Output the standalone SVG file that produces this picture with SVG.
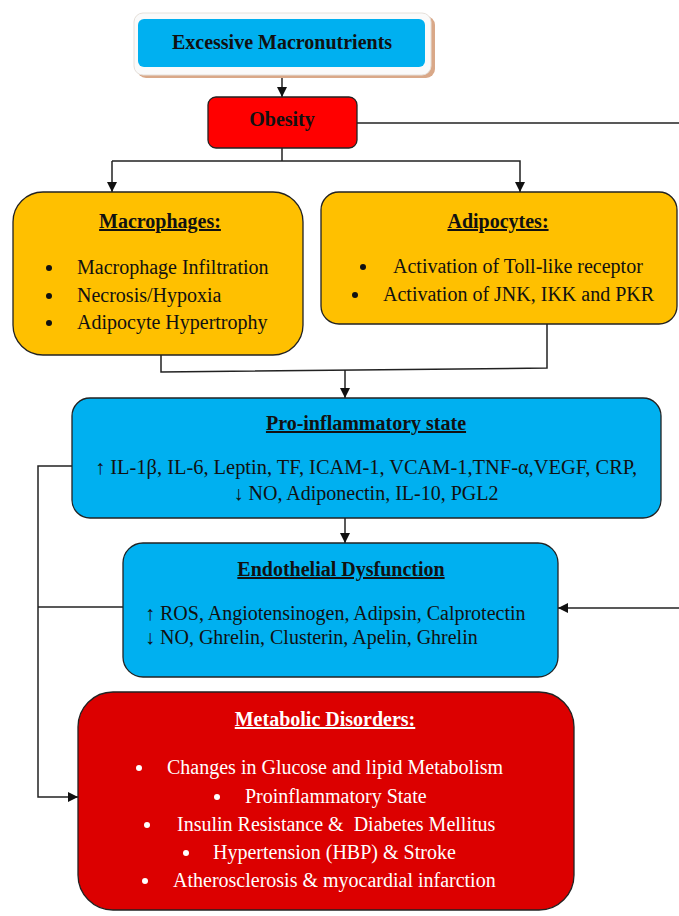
<svg xmlns="http://www.w3.org/2000/svg" width="679" height="916" viewBox="0 0 679 916" font-family="'Liberation Serif', 'Times New Roman', 'DejaVu Serif', serif">
<style>
text{font-family:'Liberation Serif','Times New Roman','DejaVu Serif',serif;font-size:20px;fill:#111}
.b{font-weight:bold}
.u{font-weight:bold;text-decoration:underline}
.c{text-anchor:middle}
.w{fill:#fff}
.box{stroke:#222;stroke-width:1.3}
.yel{fill:#FFC000}
.blu{fill:#00B0F0}
.conn{fill:none;stroke:#222;stroke-width:1.5}
.dot{fill:#111}
.wdot{fill:#fff}
</style>
<defs>
<marker id="ah" viewBox="0 0 10 10" refX="10" refY="5" markerWidth="10" markerHeight="10" markerUnits="userSpaceOnUse" orient="auto">
<path d="M0,0 L10,5 L0,10 z" fill="#111"/>
</marker>
</defs>
<rect width="679" height="916" fill="#fff"/>

<g id="connectors">
<line class="conn" x1="282" y1="76" x2="282" y2="97" marker-end="url(#ah)"/>
<line class="conn" x1="357" y1="123" x2="679" y2="123"/>
<polyline class="conn" points="282,148 282,161"/>
<polyline class="conn" points="112,161 520,161 520,192" marker-end="url(#ah)"/>
<line class="conn" x1="112" y1="161" x2="112" y2="192" marker-end="url(#ah)"/>
<polyline class="conn" points="161,355 161,372 547,368 547,324"/>
<line class="conn" x1="345" y1="370" x2="345" y2="398" marker-end="url(#ah)"/>
<line class="conn" x1="345" y1="518" x2="345" y2="543" marker-end="url(#ah)"/>
<polyline class="conn" points="72,466 38,466 38,797 78,797" marker-end="url(#ah)"/>
<line class="conn" x1="123" y1="607" x2="38" y2="607"/>
<line class="conn" x1="679" y1="608" x2="558" y2="608" marker-end="url(#ah)"/>
</g>

<g id="excessive-macronutrients">
<rect x="137" y="16" width="298" height="62" rx="9" fill="#D9A888"/>
<rect x="134" y="13" width="297" height="62" rx="9" fill="#fafafa" stroke="#e6e0da" stroke-width="1"/>
<rect x="138" y="19" width="287" height="48" rx="6" class="blu"/>
<text x="282" y="49" class="b c">Excessive Macronutrients</text>
</g>

<g id="obesity">
<rect x="208" y="97" width="149" height="51" rx="8" fill="#FF0000" class="box"/>
<text x="282" y="126" class="b c">Obesity</text>
</g>

<g id="macrophages">
<rect x="13" y="192" width="290" height="163" rx="30" class="yel box"/>
<text x="160" y="228" class="u c">Macrophages:</text>
<circle cx="49" cy="268" r="3" class="dot"/>
<circle cx="49" cy="296" r="3" class="dot"/>
<circle cx="49" cy="323" r="3" class="dot"/>
<text x="77" y="274">Macrophage Infiltration</text>
<text x="77" y="302">Necrosis/Hypoxia</text>
<text x="77" y="329">Adipocyte Hypertrophy</text>
</g>

<g id="adipocytes">
<rect x="321" y="192" width="356" height="132" rx="18" class="yel box"/>
<text x="498" y="228" class="u c">Adipocytes:</text>
<circle cx="363" cy="267" r="3" class="dot"/>
<circle cx="355" cy="295" r="3" class="dot"/>
<text x="393" y="273">Activation of Toll-like receptor</text>
<text x="383" y="301">Activation of JNK, IKK and PKR</text>
</g>

<g id="pro-inflammatory">
<rect x="72" y="398" width="589" height="120" rx="18" class="blu box"/>
<text x="366" y="430" class="u c">Pro-inflammatory state</text>
<text x="366" y="474" class="c" textLength="542" lengthAdjust="spacingAndGlyphs">↑ IL-1β, IL-6, Leptin, TF, ICAM-1, VCAM-1,TNF-α,VEGF, CRP,</text>
<text x="366" y="500" class="c">↓ NO, Adiponectin, IL-10, PGL2</text>
</g>

<g id="endothelial">
<rect x="123" y="543" width="435" height="134" rx="20" class="blu box"/>
<text x="341" y="576" class="u c">Endothelial Dysfunction</text>
<text x="145" y="620">↑ ROS, Angiotensinogen, Adipsin, Calprotectin</text>
<text x="145" y="644">↓ NO, Ghrelin, Clusterin, Apelin, Ghrelin</text>
</g>

<g id="metabolic-disorders">
<rect x="78" y="692" width="496" height="218" rx="35" fill="#DC0000" class="box"/>
<text x="325" y="726" class="u c w">Metabolic Disorders:</text>
<circle cx="139" cy="768" r="3" class="wdot"/>
<circle cx="217" cy="797" r="3" class="wdot"/>
<circle cx="147" cy="825" r="3" class="wdot"/>
<circle cx="186" cy="853" r="3" class="wdot"/>
<circle cx="145" cy="881" r="3" class="wdot"/>
<text x="167" y="774" class="w">Changes in Glucose and lipid Metabolism</text>
<text x="245" y="803" class="w">Proinflammatory State</text>
<text x="177" y="831" class="w" xml:space="preserve">Insulin Resistance &amp;  Diabetes Mellitus</text>
<text x="213" y="859" class="w">Hypertension (HBP) &amp; Stroke</text>
<text x="173" y="887" class="w">Atherosclerosis &amp; myocardial infarction</text>
</g>
</svg>
